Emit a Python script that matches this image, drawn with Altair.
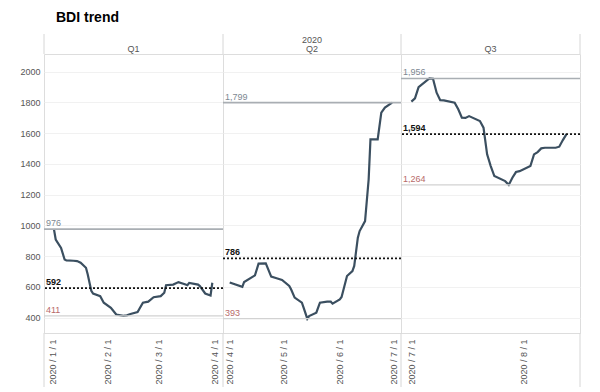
import altair as alt
import pandas as pd

# ---------------- data ----------------
q1_dates = ["2020-01-02", "2020-01-03", "2020-01-06", "2020-01-08", "2020-01-09", "2020-01-13",
            "2020-01-15", "2020-01-17", "2020-01-20", "2020-01-21", "2020-01-22", "2020-01-23",
            "2020-01-24", "2020-01-28", "2020-01-30", "2020-02-03", "2020-02-06", "2020-02-10",
            "2020-02-12", "2020-02-14", "2020-02-18", "2020-02-21", "2020-02-24", "2020-02-27",
            "2020-03-02", "2020-03-04", "2020-03-05", "2020-03-09", "2020-03-12", "2020-03-16",
            "2020-03-17", "2020-03-18", "2020-03-23", "2020-03-24", "2020-03-27", "2020-03-30",
            "2020-03-31"]
q1_values = [976, 908, 853, 778, 772, 770, 768, 757, 724, 680, 627, 575, 557, 540, 497, 464, 420,
             411, 415, 424, 436, 497, 504, 533, 540, 562, 611, 615, 631, 615, 611, 626, 615, 605,
             557, 544, 627]

q2_dates = ["2020-04-01", "2020-04-08", "2020-04-09", "2020-04-15", "2020-04-17", "2020-04-21",
            "2020-04-24", "2020-04-27", "2020-04-30", "2020-05-04", "2020-05-05", "2020-05-07",
            "2020-05-11", "2020-05-12", "2020-05-14", "2020-05-15", "2020-05-19", "2020-05-21",
            "2020-05-25", "2020-05-27", "2020-05-28", "2020-06-01", "2020-06-02", "2020-06-05",
            "2020-06-08", "2020-06-09", "2020-06-11", "2020-06-12", "2020-06-15", "2020-06-17",
            "2020-06-18", "2020-06-22", "2020-06-24", "2020-06-26", "2020-06-30"]
q2_values = [628, 600, 632, 675, 751, 753, 667, 656, 645, 606, 584, 530, 497, 464, 393, 410, 432,
             497, 504, 504, 491, 519, 534, 671, 703, 736, 920, 963, 1028, 1300, 1560, 1560, 1733,
             1766, 1799]

q3_dates = ["2020-07-01", "2020-07-02", "2020-07-03", "2020-07-06", "2020-07-07", "2020-07-08",
            "2020-07-09", "2020-07-10", "2020-07-13", "2020-07-14", "2020-07-15", "2020-07-16",
            "2020-07-17", "2020-07-20", "2020-07-21", "2020-07-22", "2020-07-23", "2020-07-24",
            "2020-07-27", "2020-07-28", "2020-07-29", "2020-07-30", "2020-07-31", "2020-08-03",
            "2020-08-04", "2020-08-05", "2020-08-06", "2020-08-07", "2020-08-10", "2020-08-11",
            "2020-08-12", "2020-08-13"]
q3_values = [1805, 1826, 1900, 1956, 1954, 1863, 1815, 1813, 1798, 1755, 1701, 1699, 1711, 1679,
             1636, 1462, 1386, 1321, 1288, 1264, 1310, 1347, 1353, 1386, 1462, 1477, 1501, 1505,
             1505, 1512, 1555, 1594]

quarters = ["Q1", "Q2", "Q3"]
max_vals = [976, 1799, 1956]
avg_vals = [592, 786, 1594]
min_vals = [411, 393, 1264]
y_ticks = [400, 600, 800, 1000, 1200, 1400, 1600, 1800, 2000]
tick_dates = [[(2020, 1, 1), (2020, 2, 1), (2020, 3, 1), (2020, 4, 1)],
              [(2020, 4, 1), (2020, 5, 1), (2020, 6, 1), (2020, 7, 1)],
              [(2020, 7, 1), (2020, 8, 1)]]
x_domains = [[(2019, 12, 27, 10), (2020, 4, 6, 0)],
             [(2020, 3, 28, 7), (2020, 7, 4, 22)],
             [(2020, 6, 28, 3), (2020, 8, 16, 18)]]

all_dates = [q1_dates, q2_dates, q3_dates]
all_values = [q1_values, q2_values, q3_values]

# ---------------- style ----------------
FONT = "Liberation Sans"
H = 279
widths = [179, 178, 179]
LINE_C = "#3b4f60"
SEP_C = "#d6d6d6"


def dt(t):
    if len(t) == 4:
        return alt.DateTime(year=t[0], month=t[1], date=t[2], hours=t[3])
    return alt.DateTime(year=t[0], month=t[1], date=t[2])


one = pd.DataFrame({"a": [0]})
yscale = alt.Scale(domain=[300, 2115], nice=False, zero=False)


def panel(i):
    w = widths[i]
    df = pd.DataFrame({"date": pd.to_datetime(all_dates[i]), "value": all_values[i]})
    if i == 0:
        yaxis = alt.Axis(values=y_ticks, format="d", labelOverlap=False, labelFlush=False,
                         ticks=False, domain=False, grid=True, gridColor="#f1f1f1",
                         labelFontSize=9, labelColor="#555", labelPadding=4, title=None,
                         labelFont=FONT, labelBound=False)
    else:
        yaxis = alt.Axis(values=y_ticks, ticks=False, domain=False, grid=True,
                         gridColor="#f1f1f1", labels=False, title=None)

    def Y():
        return alt.Y("value:Q", scale=yscale, axis=yaxis)

    xaxis = alt.Axis(values=[dt(t) for t in tick_dates[i]], format="%Y / %-m / %-d",
                     labelAngle=270, ticks=False, domain=False, grid=False, labelPadding=6,
                     labelFontSize=9, labelColor="#555", title=None, labelFont=FONT,
                     labelOverlap=False)
    line = alt.Chart(df).mark_line(color=LINE_C, strokeWidth=2.2).encode(
        x=alt.X("date:T", scale=alt.Scale(domain=[dt(t) for t in x_domains[i]]), axis=xaxis),
        y=Y(),
    )
    mx = pd.DataFrame({"value": [max_vals[i]]})
    av = pd.DataFrame({"value": [avg_vals[i]]})
    mn = pd.DataFrame({"value": [min_vals[i]]})
    max_rule = alt.Chart(mx).mark_rule(color="#a9aeb3", strokeWidth=1.6).encode(y=Y())
    min_rule = alt.Chart(mn).mark_rule(color="#d2d2d2", strokeWidth=1.2).encode(y=Y())
    avg_rule = alt.Chart(av).mark_rule(color="#111111", strokeWidth=1.8,
                                       strokeDash=[2, 2]).encode(y=Y())
    tkw = dict(align="left", baseline="alphabetic", dy=-3, fontSize=9, font=FONT)
    max_txt = alt.Chart(mx).mark_text(color="#7d8892", **tkw).encode(
        x=alt.value(2), y=Y(), text=alt.Text("value:Q", format=",d"))
    min_txt = alt.Chart(mn).mark_text(color="#b86a6a", **tkw).encode(
        x=alt.value(2), y=Y(), text=alt.Text("value:Q", format=",d"))
    avg_txt = alt.Chart(av).mark_text(color="#111111", fontWeight="bold", **tkw).encode(
        x=alt.value(2), y=Y(), text=alt.Text("value:Q", format=",d"))
    header = alt.Chart(one).mark_text(fontSize=9, color="#555", font=FONT, baseline="middle").encode(
        x=alt.value(w / 2), y=alt.value(-5), text=alt.value(quarters[i]))
    sep_top = alt.Chart(one).mark_rule(color=SEP_C).encode(
        x=alt.value(0), y=alt.value(-20), y2=alt.value(0))
    sep_bot = alt.Chart(one).mark_rule(color=SEP_C).encode(
        x=alt.value(0), y=alt.value(H), y2=alt.value(H + 54))
    layers = [line, max_rule, min_rule, avg_rule, max_txt, min_txt, avg_txt, header, sep_top, sep_bot]
    if i == 0:
        title = alt.Chart(one).mark_text(fontSize=14, fontWeight="bold", color="#000", font=FONT,
                                         align="left", baseline="middle").encode(
            x=alt.value(12), y=alt.value(-36), text=alt.value("BDI trend"))
        layers.append(title)
    if i == 1:
        year = alt.Chart(one).mark_text(fontSize=9, color="#555", font=FONT, baseline="middle").encode(
            x=alt.value(w / 2), y=alt.value(-14), text=alt.value("2020"))
        layers.append(year)
    if i == 2:
        layers.append(alt.Chart(one).mark_rule(color=SEP_C).encode(
            x=alt.value(w), y=alt.value(-20), y2=alt.value(0)))
        layers.append(alt.Chart(one).mark_rule(color=SEP_C).encode(
            x=alt.value(w), y=alt.value(H), y2=alt.value(H + 54)))
    return alt.layer(*layers).properties(width=w, height=H)


chart = alt.hconcat(panel(0), panel(1), panel(2), spacing=0, bounds="flush").properties(
    padding={"left": 11, "top": 2, "right": 5, "bottom": 2}
).configure_view(stroke=SEP_C, strokeWidth=1).configure(font=FONT, background="white")

chart.save("out.html", embed_options={"renderer": "svg", "actions": False})
